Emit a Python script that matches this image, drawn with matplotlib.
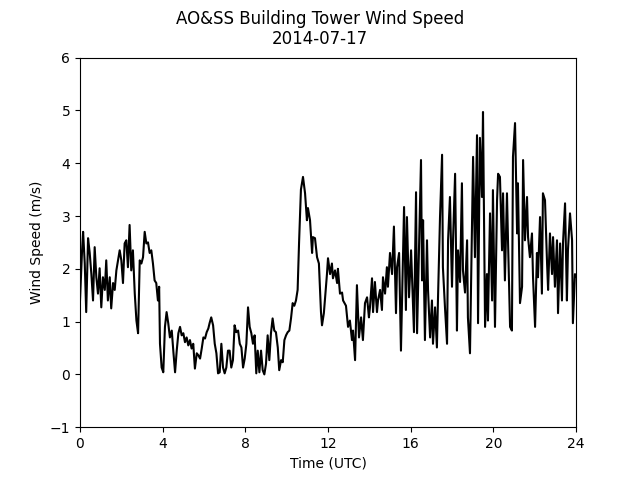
import matplotlib
matplotlib.use("Agg")
import matplotlib.pyplot as plt

hours = [0.00, 0.10, 0.15, 0.23, 0.30, 0.39, 0.47, 0.55, 0.63, 0.71, 0.79, 0.87, 0.95, 1.03, 1.11,
         1.20, 1.27, 1.35, 1.44, 1.51, 1.60, 1.68, 1.76, 1.84, 1.92, 2.00, 2.08, 2.16, 2.24,
         2.32, 2.40, 2.48, 2.56, 2.65, 2.73, 2.81, 2.89, 2.97, 3.05, 3.13, 3.21, 3.29, 3.37, 3.45,
         3.53, 3.61, 3.69, 3.77,
         3.83, 3.87, 3.95, 4.03, 4.11, 4.19, 4.27, 4.35, 4.44, 4.52, 4.60, 4.68, 4.76, 4.84, 4.92,
         5.00, 5.08, 5.16, 5.24, 5.32, 5.40, 5.48, 5.56, 5.65, 5.73, 5.81, 5.89, 5.97, 6.05, 6.13, 6.21,
         6.27, 6.35, 6.44, 6.52, 6.60, 6.68, 6.76, 6.84, 6.92, 7.00, 7.08, 7.16, 7.24, 7.32, 7.40,
         7.48, 7.56, 7.65, 7.73, 7.81, 7.89, 7.97, 8.05, 8.13, 8.21, 8.29, 8.37, 8.45, 8.53,
         8.60, 8.68, 8.76, 8.84, 8.92, 9.00, 9.08, 9.16, 9.24, 9.32, 9.40, 9.48, 9.57, 9.64, 9.73,
         9.81, 9.89, 9.97, 10.05, 10.13, 10.21, 10.29, 10.37, 10.45, 10.53,
         10.60, 10.69, 10.79, 10.89, 10.98, 11.03, 11.13, 11.23, 11.27, 11.37, 11.47, 11.56, 11.66,
         11.71, 11.80, 11.95, 12.00, 12.10, 12.19, 12.24, 12.34, 12.44, 12.48, 12.58, 12.68, 12.73,
         12.87, 12.97, 13.06, 13.16, 13.21, 13.31, 13.40, 13.50, 13.60, 13.69, 13.79, 13.89, 13.98,
         14.03, 14.13, 14.18, 14.27, 14.37, 14.42, 14.52, 14.61, 14.66, 14.76, 14.85, 14.90, 15.00,
         15.10, 15.19, 15.29, 15.34, 15.44, 15.53, 15.68, 15.77, 15.82, 15.92, 16.02, 16.06, 16.16,
         16.26, 16.31, 16.40, 16.50, 16.55, 16.60, 16.69, 16.79, 16.84, 16.94, 17.03, 17.08, 17.18,
         17.27, 17.32, 17.42, 17.52, 17.56, 17.66, 17.76, 17.81, 17.90, 18.00, 18.05, 18.15, 18.24,
         18.29, 18.39, 18.48, 18.53, 18.63, 18.73, 18.77, 18.87, 18.97, 19.02, 19.11, 19.21, 19.26,
         19.35, 19.45, 19.50, 19.60, 19.69, 19.74, 19.84, 19.94, 19.98, 20.08, 20.18, 20.23, 20.32,
         20.42, 20.47, 20.56, 20.66, 20.71, 20.81, 20.90, 20.95, 21.05, 21.15, 21.19, 21.29, 21.39,
         21.44, 21.53, 21.63, 21.68, 21.77, 21.87, 21.92, 22.02, 22.11, 22.16, 22.26, 22.35, 22.40,
         22.50, 22.60, 22.65, 22.74, 22.84, 22.89, 22.98, 23.08, 23.13, 23.23, 23.32, 23.37, 23.47,
         23.56, 23.61, 23.71, 23.81, 23.85, 23.95, 24.00]

speed = [1.40, 2.35, 2.70, 2.10, 1.18, 2.58, 2.30, 1.90, 1.40, 2.41, 1.84, 1.53, 2.01, 1.27, 1.84,
         1.60, 2.16, 1.40, 1.84, 1.25, 1.73, 1.60, 1.97, 2.16, 2.35, 2.16, 1.73, 2.48, 2.54,
         2.03, 2.83, 1.97, 2.35, 1.53, 1.02, 0.78, 2.16, 2.10, 2.22, 2.70, 2.48, 2.50, 2.30, 2.35,
         2.10, 1.78, 1.73, 1.40,
         1.66, 0.58, 0.13, 0.04, 0.90, 1.18, 0.97, 0.70, 0.83, 0.42, 0.04, 0.45, 0.78, 0.90, 0.74,
         0.78, 0.61, 0.70, 0.55, 0.65, 0.49, 0.58, 0.11, 0.40, 0.36, 0.30, 0.49, 0.70, 0.68, 0.80, 0.87,
         0.97, 1.08, 0.93, 0.58, 0.40, 0.02, 0.04, 0.58, 0.13, 0.02, 0.13, 0.45, 0.45, 0.13, 0.27,
         0.93, 0.80, 0.83, 0.58, 0.51, 0.13, 0.30, 0.58, 1.27, 0.90, 0.78, 0.58, 0.74, 0.02,
         0.45, 0.04, 0.45, 0.08, 0.00, 0.20, 0.74, 0.27, 0.78, 1.06, 0.83, 0.80, 0.51, 0.08, 0.27,
         0.23, 0.65, 0.74, 0.80, 0.83, 1.06, 1.35, 1.30, 1.40, 1.60,
         2.50, 3.50, 3.74, 3.43, 2.92, 3.15, 2.92, 2.30, 2.60, 2.58, 2.22, 2.10, 1.18,
         0.93, 1.16, 1.90, 2.20, 1.90, 2.10, 1.82, 1.97, 1.73, 2.00, 1.53, 1.55, 1.40,
         1.30, 0.90, 1.02, 0.65, 0.83, 0.27, 1.69, 0.70, 1.08, 0.65, 1.35, 1.46, 1.08,
         1.27, 1.82, 1.18, 1.75, 1.18, 1.40, 1.60, 1.22, 1.84, 1.53, 2.03, 1.66, 2.30,
         1.90, 2.80, 1.16, 2.03, 2.30, 0.45, 3.17, 1.22, 2.98, 1.46, 2.35, 1.90, 0.80,
         3.45, 0.78, 2.30, 4.06, 1.78, 2.92, 0.65, 2.54, 1.60, 0.70, 1.40, 0.58, 1.27,
         0.51, 1.40, 2.98, 4.16, 2.03, 1.27, 0.58, 2.54, 3.36, 1.66, 2.54, 3.80, 0.83,
         2.35, 1.75, 3.62, 1.97, 1.55, 2.54, 1.08, 0.40, 2.86, 4.12, 2.22, 4.53, 0.97,
         4.48, 3.36, 4.97, 0.90, 1.90, 1.02, 3.05, 1.40, 3.49, 0.90, 3.30, 3.80, 3.74,
         2.35, 3.43, 1.78, 3.43, 2.54, 0.90, 0.83, 4.12, 4.76, 2.67, 3.62, 1.35, 1.66,
         4.06, 2.54, 3.36, 2.60, 2.22, 2.67, 1.84, 0.90, 2.30, 1.84, 2.98, 1.53, 3.43,
         3.30, 2.10, 1.60, 2.67, 1.90, 2.60, 1.66, 2.54, 1.16, 2.48, 1.40, 2.48, 3.24,
         1.40, 2.35, 3.05, 2.54, 0.97, 1.90, 1.85]

xticks = [0, 4, 8, 12, 16, 20, 24]
yticks = [-1, 0, 1, 2, 3, 4, 5, 6]

fig, ax = plt.subplots(figsize=(6.4, 4.8), dpi=100)
fig.subplots_adjust(left=0.125, right=0.9, bottom=0.11, top=0.88)
ax.plot(hours, speed, color='black', linewidth=1.5)
ax.set_xlim(0, 24)
ax.set_ylim(-1, 6)
ax.set_xticks(xticks)
ax.set_yticks(yticks)
ax.set_xlabel('Time (UTC)')
ax.set_ylabel('Wind Speed (m/s)')
fig.suptitle('AO&SS Building Tower Wind Speed\n2014-07-17')
fig.savefig('out.png', dpi=100)
